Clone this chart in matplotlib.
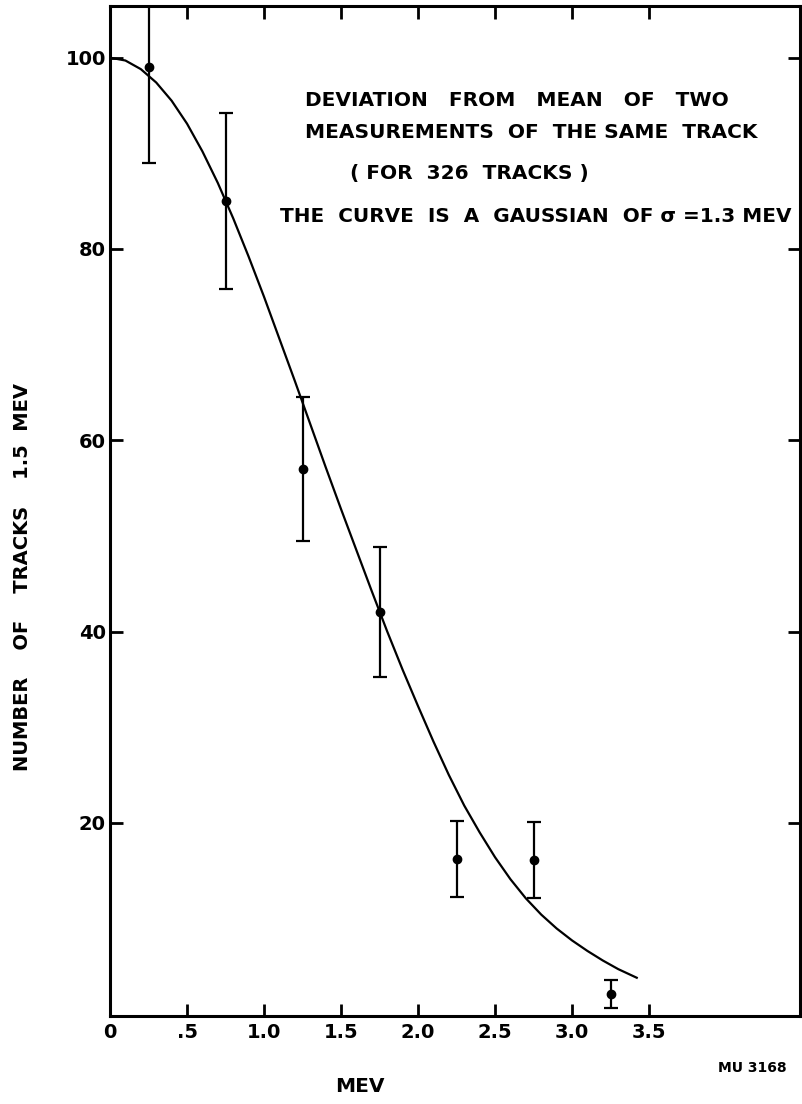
import matplotlib
matplotlib.use('Agg')
import matplotlib.pyplot as plt

# measured points (per bin) with their error bars
mev = [0.25, 0.75, 1.25, 1.75, 2.25, 2.75, 3.25]
tracks = [99, 85, 57, 42, 16.2, 16.1, 2.1]
err = [10, 9.2, 7.5, 6.8, 4.0, 4.0, 1.5]

# the drawn gaussian
curve_x = [0.0, 0.1, 0.2, 0.3, 0.4, 0.5, 0.6, 0.7, 0.8, 0.9, 1.0, 1.1, 1.2,
           1.3, 1.4, 1.5, 1.6, 1.7, 1.8, 1.9, 2.0, 2.1, 2.2, 2.3, 2.4, 2.5,
           2.6, 2.7, 2.8, 2.9, 3.0, 3.1, 3.2, 3.3, 3.42]
curve_y = [100, 99.7, 98.8, 97.4, 95.5, 93.1, 90.2, 86.9, 83.2, 79.2, 75.0,
           70.6, 66.2, 61.7, 57.2, 52.8, 48.5, 44.2, 40.0, 36.0, 32.2, 28.5,
           25.0, 21.8, 19.0, 16.4, 14.1, 12.1, 10.4, 8.95, 7.7, 6.6, 5.6, 4.7, 3.8]

xticks = [0, 0.5, 1.0, 1.5, 2.0, 2.5, 3.0, 3.5]
xticklabels = ['0', '.5', '1.0', '1.5', '2.0', '2.5', '3.0', '3.5']
yticks = [20, 40, 60, 80, 100]

plt.rcParams['font.family'] = ['DejaVu Sans']
plt.rcParams['font.weight'] = 'bold'

W, H = 803, 1104
fig = plt.figure(figsize=(W / 100, H / 100), dpi=100)
ax = fig.add_axes([110 / W, 1 - 1016 / H, 690 / W, 1010 / H])

ax.plot(curve_x, curve_y, color='k', linewidth=1.6, solid_joinstyle='round')
ax.errorbar(mev, tracks, yerr=err, fmt='o', color='k', markersize=6,
            elinewidth=1.6, capsize=5, capthick=1.6)

ax.set_xlim(0, 4.48)
ax.set_ylim(-0.2, 105.4)
ax.set_xticks(xticks)
ax.set_xticklabels(xticklabels)
ax.set_yticks(yticks)
ax.tick_params(direction='in', length=9, width=2, labelsize=14,
               top=True, right=True, pad=5)
ax.tick_params(axis='y', pad=3)
for s in ax.spines.values():
    s.set_linewidth(2.2)

def ftext(x, y, s, size=14.5, ha='left', **kw):
    fig.text(x / W, 1 - y / H, s, fontsize=size, va='center', ha=ha, **kw)

# axis titles placed like the hand lettering
ftext(360, 1087, 'MEV', ha='center')
ftext(23, 577, 'NUMBER    OF    TRACKS    1.5  MEV', size=14, ha='center',
      rotation=90)

ftext(305, 101, 'DEVIATION   FROM   MEAN   OF   TWO')
ftext(305, 132, 'MEASUREMENTS  OF  THE SAME  TRACK')
ftext(350, 173, '( FOR  326  TRACKS )')
ftext(280, 217, 'THE  CURVE  IS  A  GAUSSIAN  OF σ =1.3 MEV', size=14.4)
ftext(718, 1068, 'MU 3168', size=10)

fig.savefig('out.png', dpi=100)
